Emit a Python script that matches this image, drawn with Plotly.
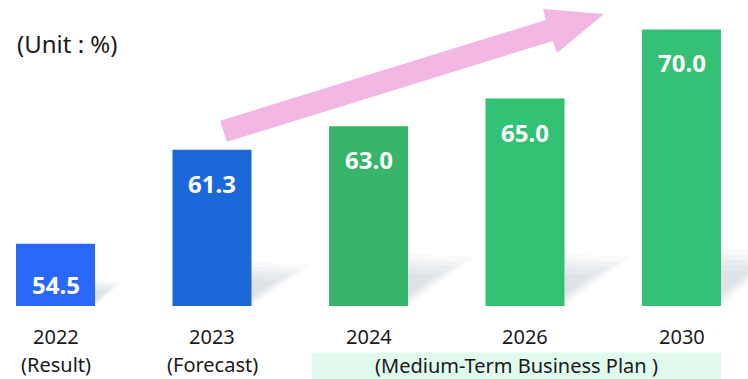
import plotly.graph_objects as go

# ---- data ----
years = ["2022", "2023", "2024", "2026", "2030"]
subtitles = ["(Result)", "(Forecast)", "", "", ""]
values = [54.5, 61.3, 63.0, 65.0, 70.0]

# ---- style ----
bar_colors = ["#2a68fb", "#1c68d8", "#36b56b", "#33c173", "#35c175"]
label_shift = [-22, -15, -15, -15, -15]
shadow_size = [(26, 26), (60, 44), (66, 52), (66, 52), (66, 58)]
W, H = 748, 379
B = 72.5
PH = H - B
STEP = 156.5
X0 = 55.5
xpos = list(range(len(years)))

fig = go.Figure()
fig.add_trace(go.Bar(
    x=xpos, y=values, marker=dict(color=bar_colors, line=dict(width=0)),
    width=0.505, hoverinfo="skip",
))

for i, v in enumerate(values):
    fig.add_annotation(x=i, y=v, text=f"<b>{v:.1f}</b>", showarrow=False,
                       yanchor="top", yshift=label_shift[i],
                       font=dict(family="Noto Sans", size=24, color="white"))


def px(xp, yp):
    return xp / W, 1 - yp / PH


def pathstr(pts):
    return "M " + " L ".join(f"{px(a, b)[0]:.5f},{px(a, b)[1]:.5f}" for a, b in pts) + " Z"


# pink arrow
pts = [(227, 142), (220, 121), (546, 20), (543, 9), (604, 14), (557, 53), (553, 41)]
fig.add_shape(type="path", path=pathstr(pts), xref="paper", yref="paper",
              fillcolor="#f2b8e3", line=dict(width=0), layer="below")

# soft shadows right of bars
for i, v in enumerate(values):
    xr = X0 + STEP * i + 39.5
    yb = PH
    w, h = shadow_size[i]
    cx, cy = xr, yb - 0.35 * h
    for s in [1.0, 0.85, 0.7, 0.55, 0.4]:
        tri = [(xr, cy + (yb - h - cy) * s), (cx + w * s, cy + (yb - h + 3 - cy) * s),
               (xr, cy + (yb - cy) * s)]
        fig.add_shape(type="path", path=pathstr(tri), xref="paper", yref="paper",
                      fillcolor="rgba(120,130,165,0.05)", line=dict(width=0), layer="below")

# category labels
for i, (yr, sub) in enumerate(zip(years, subtitles)):
    fig.add_annotation(x=i, y=1 - 337 / PH, xref="x", yref="paper", text=yr,
                       showarrow=False, xanchor="center", yanchor="middle",
                       font=dict(family="Noto Sans", size=20, color="#1a1a1a"))
    if sub:
        fig.add_annotation(x=i, y=1 - 365 / PH, xref="x", yref="paper", text=sub,
                           showarrow=False, xanchor="center", yanchor="middle",
                           font=dict(family="Noto Sans", size=20, color="#1a1a1a"))

# medium-term band
fig.add_shape(type="rect", xref="paper", yref="paper",
              x0=312 / W, x1=721 / W, y0=1 - 380 / PH, y1=1 - 353 / PH,
              fillcolor="#e0fbee", line=dict(width=0), layer="below")
fig.add_annotation(x=516 / W, y=1 - 366 / PH, xref="paper", yref="paper",
                   xanchor="center", yanchor="middle",
                   text="(Medium-Term Business Plan )", showarrow=False,
                   font=dict(family="Noto Sans", size=20, color="#1a1a1a"))

fig.add_annotation(x=15 / W, y=1 - 44 / PH, xref="paper", yref="paper",
                   xanchor="left", yanchor="middle",
                   text="(Unit : %)", showarrow=False,
                   font=dict(family="Noto Sans", size=24, color="#1a1a1a"))

fig.update_layout(
    width=W, height=H, margin=dict(l=0, r=0, t=0, b=B),
    paper_bgcolor="white", plot_bgcolor="white", showlegend=False,
    xaxis=dict(range=[-X0 / STEP, (W - X0) / STEP], tickvals=xpos,
               showticklabels=False, showgrid=False, zeroline=False,
               showline=False, ticks="", fixedrange=True),
    yaxis=dict(range=[50, 50 + PH / 13.85], visible=False, fixedrange=True),
)
fig.write_html("out.html")
